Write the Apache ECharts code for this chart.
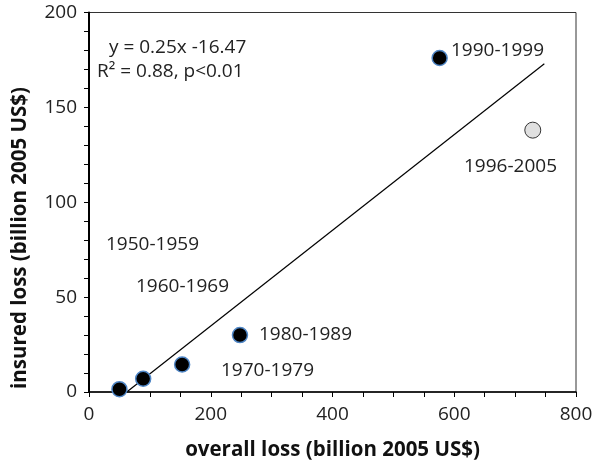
<!DOCTYPE html>
<html>
<head>
<meta charset="utf-8">
<script src="https://cdn.jsdelivr.net/npm/echarts@6/dist/echarts.min.js"></script>
<style>
  html, body { margin: 0; padding: 0; background: #fff; }
  #main { width: 600px; height: 466px; }
</style>
</head>
<body>
<div id="main"></div>
<script>
  // decade points: overall loss vs insured loss (billion 2005 US$)
  var decades = ['1950-1959', '1960-1969', '1970-1979', '1980-1989', '1990-1999'];
  var overallLoss = [50, 89, 153, 248, 576];
  var insuredLoss = [1.5, 7, 14.5, 30, 176];
  // the later, overlapping decade drawn in grey
  var extraDecade = '1996-2005';
  var extraPoint = [729, 138];
  // regression line ends
  var fitLine = [[62, 0], [748, 173]];
  var xTicks = [0, 200, 400, 600, 800];
  var yTicks = [0, 50, 100, 150, 200];

  var FONT = 'Open Sans';
  var myChart = echarts.init(document.getElementById('main'));

  var points = [];
  for (var i = 0; i < overallLoss.length; i++) {
    points.push([overallLoss[i], insuredLoss[i], decades[i]]);
  }

  function txt(str, left, cy) {
    return {
      type: 'text',
      left: left,
      top: cy - 12,
      style: { text: str, fill: '#222', font: '19px "' + FONT + '"' }
    };
  }

  var option = {
    animation: false,
    grid: {
      left: 89, right: 24, top: 12.5, bottom: 74,
      show: true, borderColor: '#333', borderWidth: 1
    },
    xAxis: {
      type: 'value',
      min: xTicks[0], max: xTicks[xTicks.length - 1], interval: 200,
      name: 'overall loss (billion 2005 US$)',
      nameLocation: 'middle', nameGap: 48,
      nameTextStyle: { fontFamily: FONT, fontSize: 20.5, fontWeight: 'bold', color: '#111' },
      axisLine: { lineStyle: { color: '#000', width: 1.5 } },
      axisTick: { inside: false, length: 5, lineStyle: { color: '#000' } },
      minorTick: { show: true, splitNumber: 4, length: 5, lineStyle: { color: '#000' } },
      axisLabel: { fontFamily: FONT, fontSize: 19, color: '#222', margin: 13 },
      splitLine: { show: false }
    },
    yAxis: {
      type: 'value',
      min: yTicks[0], max: yTicks[yTicks.length - 1], interval: 50,
      axisLine: { lineStyle: { color: '#000', width: 2 } },
      axisTick: { inside: false, length: 5, lineStyle: { color: '#000' } },
      minorTick: { show: true, splitNumber: 5, length: 5, lineStyle: { color: '#000' } },
      axisLabel: { fontFamily: FONT, fontSize: 19, color: '#222', margin: 12 },
      splitLine: { show: false }
    },
    series: [
      {
        type: 'line',
        data: fitLine,
        showSymbol: false,
        symbol: 'none',
        lineStyle: { color: '#000', width: 1.2 },
        z: 2
      },
      {
        type: 'scatter',
        data: points,
        symbolSize: 15,
        itemStyle: { color: '#000', opacity: 1, borderColor: '#4f86c6', borderWidth: 1.5 },
        z: 3
      },
      {
        type: 'scatter',
        data: [extraPoint],
        symbolSize: 16,
        itemStyle: { color: '#e0e0e0', opacity: 1, borderColor: '#333', borderWidth: 1 },
        z: 3
      }
    ],
    graphic: [
      {
        type: 'text',
        x: 20, y: 238,
        rotation: Math.PI / 2,
        style: {
          text: 'insured loss (billion 2005 US$)',
          fill: '#111',
          font: 'bold 20.5px "' + FONT + '"',
          align: 'center',
          verticalAlign: 'middle'
        }
      },
      txt('y = 0.25x -16.47', 109, 50),
      txt('R\u00b2 = 0.88, p<0.01', 97, 74),
      txt(decades[0], 106, 247),
      txt(decades[1], 136, 289),
      txt(decades[2], 221, 373),
      txt(decades[3], 259, 337),
      txt(decades[4], 451, 53),
      txt(extraDecade, 464, 169)
    ]
  };
  myChart.setOption(option);
</script>
</body>
</html>
